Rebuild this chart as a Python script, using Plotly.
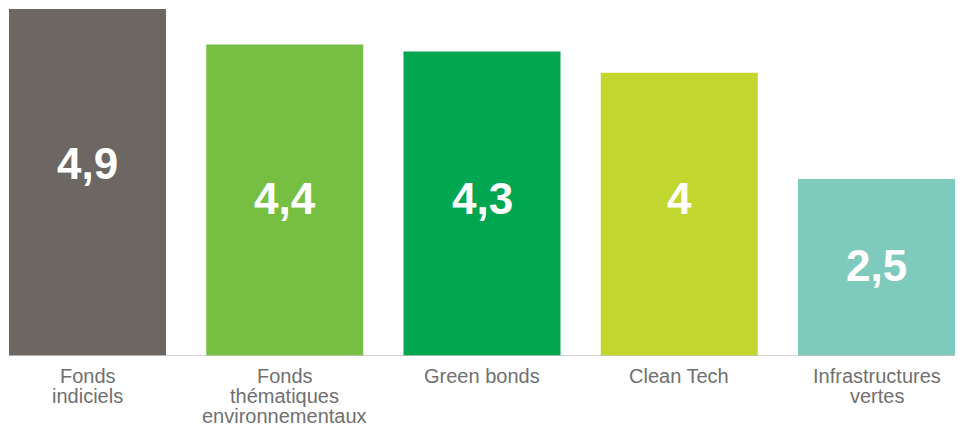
import plotly.graph_objects as go

categories = ["Fonds<br>indiciels", "Fonds<br>thématiques<br>environnementaux", "Green bonds", "Clean Tech", "Infrastructures<br>vertes"]
values = [4.9, 4.4, 4.3, 4.0, 2.5]
value_labels = ["4,9", "4,4", "4,3", "4", "2,5"]
colors = ["#6d6764", "#76bf43", "#00a650", "#c1d72f", "#7ecbbd"]
source_text = "Source : Novethic"

# label vertical placement (data units) — layout only
label_y = [2.72, 2.22, 2.22, 2.22, 1.28]

x = list(range(len(categories)))
fig = go.Figure(go.Bar(x=x, y=values, marker=dict(color=colors, line=dict(width=0)),
                       width=0.796, hoverinfo="skip"))

ann = []
for i, (lab, ly) in enumerate(zip(value_labels, label_y)):
    ann.append(dict(x=i, y=ly, xref="x", yref="y", text=lab, showarrow=False,
                    font=dict(family="Liberation Sans", size=44, color="white", weight="bold"),
                    xanchor="center", yanchor="middle"))
for i, cat in enumerate(categories):
    for j, line in enumerate(cat.split("<br>")):
        ann.append(dict(x=i, y=0, xref="x", yref="y", text=line, showarrow=False,
                        font=dict(family="Liberation Sans", size=20, color="#707070"),
                        xanchor="center", yanchor="middle", yshift=-20 - 20 * j))
ann.append(dict(x=1, y=1, xref="paper", yref="paper", text=source_text, showarrow=False,
                font=dict(family="Liberation Sans", size=18, color="#707070"),
                xanchor="right", yanchor="middle", yshift=8, xshift=-7))

fig.update_layout(
    width=962, height=427,
    margin=dict(l=0, r=0, t=0, b=71),
    plot_bgcolor="white", paper_bgcolor="white",
    xaxis=dict(range=[-0.4436, 4.4334], showticklabels=False, showgrid=False,
               zeroline=False, showline=False, fixedrange=True),
    yaxis=dict(range=[0, 5.028], showticklabels=False, showgrid=False,
               zeroline=False, showline=False, fixedrange=True),
    showlegend=False,
    annotations=ann,
    shapes=[dict(type="line", xref="x", yref="y", x0=-0.398, x1=4.398, y0=0, y1=0,
                 line=dict(color="#c8c4c0", width=1.5))],
)
fig.write_html("out.html", config={"displayModeBar": False})
